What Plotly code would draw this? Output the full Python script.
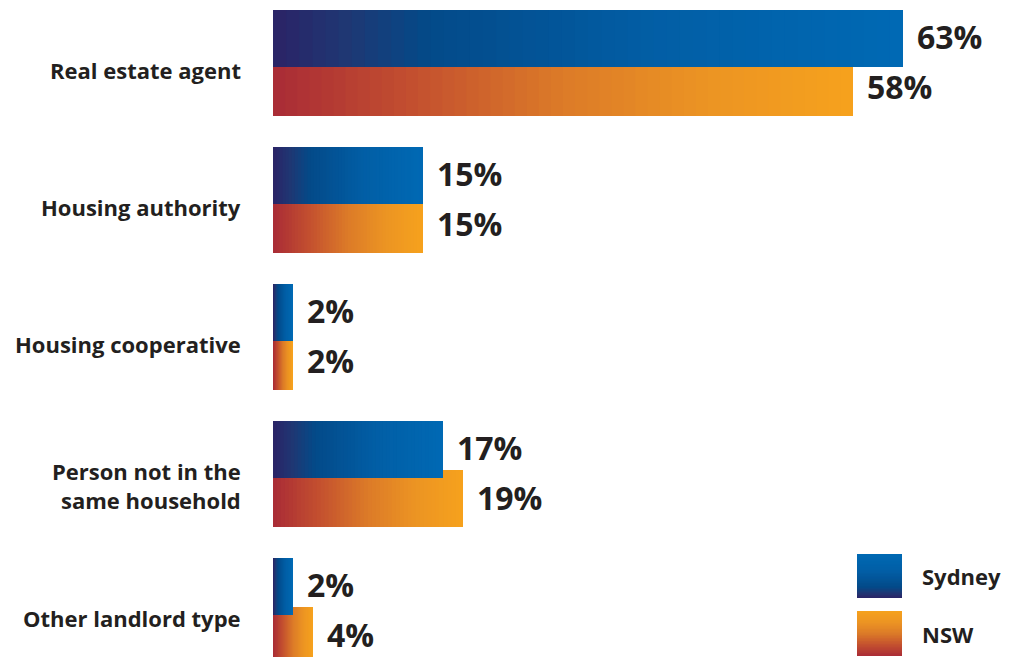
import plotly.graph_objects as go

categories = ["Real estate agent", "Housing authority", "Housing cooperative",
              "Person not in the<br>same household", "Other landlord type"]
sydney = [63, 15, 2, 17, 2]
nsw = [58, 15, 2, 19, 4]
series = ["Sydney", "NSW"]

# colour stops along each bar (0 = bar start, 1 = bar end)
SYD_STOPS = [(0.0, (43, 35, 102)), (0.12, (30, 56, 116)), (0.25, (3, 74, 137)),
             (0.6, (2, 94, 165)), (1.0, (0, 105, 180))]
NSW_STOPS = [(0.0, (169, 43, 54)), (0.25, (196, 81, 47)), (0.5, (220, 123, 40)),
             (0.75, (236, 148, 35)), (1.0, (246, 162, 29))]

W, H = 1012, 657
L = 273
N_STEPS = 48
BAR_W = 0.416
TXT = "#231f20"
FONT = "Open Sans"


def mix(stops, t):
    for (t0, c0), (t1, c1) in zip(stops, stops[1:]):
        if t <= t1:
            a = (t - t0) / (t1 - t0)
            r, g, b = [round(c0[j] + (c1[j] - c0[j]) * a) for j in range(3)]
            return f"rgb({r},{g},{b})"
    r, g, b = stops[-1][1]
    return f"rgb({r},{g},{b})"


def gradient_bars(fig, values, stops, offset):
    # each step starts a bit further along and runs to the bar end, so later
    # steps paint over the earlier ones -> horizontal gradient, no seams
    for k in range(N_STEPS):
        f = k / N_STEPS
        fig.add_trace(go.Bar(
            y=categories, x=[v * (1 - f) for v in values], base=[v * f for v in values],
            orientation="h", offset=offset, width=BAR_W,
            marker=dict(color=mix(stops, (k + 0.5) / N_STEPS), line=dict(width=0)),
            hoverinfo="skip", showlegend=False))


fig = go.Figure()
gradient_bars(fig, nsw, NSW_STOPS, -0.029)
gradient_bars(fig, sydney, SYD_STOPS, -0.387)

annotations = []
for cat in categories:
    two_lines = "<br>" in cat
    annotations.append(dict(
        x=0, xref="paper", y=cat, yref="y", text=cat, showarrow=False,
        xanchor="right", yanchor="middle", align="right", xshift=-30,
        yshift=-11 if two_lines else -7,
        font=dict(family=FONT, size=22, color=TXT, weight="bold")))

for vals, ysh in [(sydney, 27), (nsw, -23)]:
    for cat, v in zip(categories, vals):
        annotations.append(dict(
            x=v, xref="x", y=cat, yref="y", text=f"{v}%", showarrow=False,
            xanchor="left", yanchor="middle", xshift=12, yshift=ysh,
            font=dict(family=FONT, size=32, color=TXT, weight="bold")))


# legend: gradient swatches (top = bar end colour, bottom = bar start colour)
def px_x(p):
    return (p - L) / (W - L)


def px_y(p):
    return 1 - p / H


shapes = []
for name, stops, top, bot in [("Sydney", SYD_STOPS, 554, 598), ("NSW", NSW_STOPS, 611, 656)]:
    n = 30
    for k in range(n):
        y_top = top + (bot - top) * k / n
        shapes.append(dict(
            type="rect", xref="paper", yref="paper",
            x0=px_x(857), x1=px_x(902), y0=px_y(bot), y1=px_y(y_top),
            fillcolor=mix(stops, 1 - (k + 0.5) / n), line=dict(width=0), layer="above"))
    annotations.append(dict(
        x=px_x(920), xref="paper", y=px_y((top + bot) / 2), yref="paper", text=name,
        showarrow=False, xanchor="left", yanchor="middle",
        font=dict(family=FONT, size=22, color=TXT, weight="bold")))

fig.update_layout(
    width=W, height=H,
    margin=dict(l=L, r=0, t=0, b=0),
    barmode="overlay",
    paper_bgcolor="white", plot_bgcolor="white",
    showlegend=False,
    annotations=annotations,
    shapes=shapes,
    xaxis=dict(range=[0, (W - L) / 10], visible=False, fixedrange=True),
    yaxis=dict(type="category", categoryorder="array", categoryarray=categories,
               range=[(H - 63) / 137, -63 / 137], visible=False, fixedrange=True),
)

fig.write_html("out.html", config={"displayModeBar": False},
               post_script="document.body.style.margin='0';")
